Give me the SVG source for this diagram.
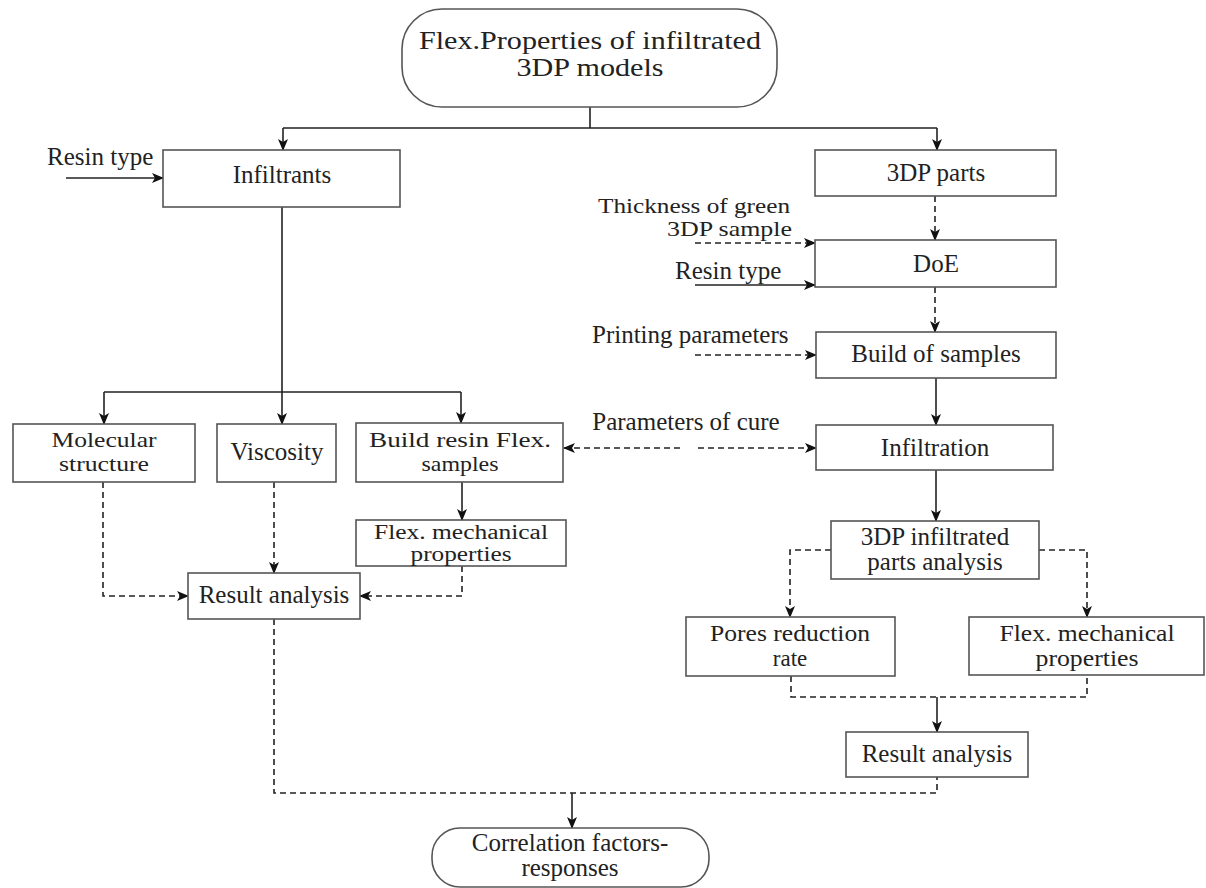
<svg xmlns="http://www.w3.org/2000/svg" width="1206" height="888" viewBox="0 0 1206 888">
<style>
.box{fill:#fff;stroke:#555;stroke-width:1.6}
.t{font-family:"Liberation Serif","Times New Roman","DejaVu Serif",serif;font-size:25px;fill:#222;text-anchor:middle}
.tl{font-family:"Liberation Serif","Times New Roman","DejaVu Serif",serif;font-size:25px;fill:#222}
.s{fill:none;stroke:#222;stroke-width:1.6}
.d{fill:none;stroke:#222;stroke-width:1.6;stroke-dasharray:6 4}
</style>
<defs>
<marker id="ah" markerWidth="12" markerHeight="10" refX="11" refY="5" orient="auto" markerUnits="userSpaceOnUse">
<path d="M0,0 L12,5 L0,10 L3,5 Z" fill="#111"/>
</marker>
</defs>
<rect width="1206" height="888" fill="#fff"/>
<g id="connectors">
<path class="s" d="M590 107 V128 M283 128 H937"/>
<path class="s" d="M283 128 V150" marker-end="url(#ah)"/>
<path class="s" d="M937 128 V150" marker-end="url(#ah)"/>
<path class="s" d="M66 178 H163" marker-end="url(#ah)"/>
<path class="s" d="M282 207 V392 M104 392 H461"/>
<path class="s" d="M282 392 V424" marker-end="url(#ah)"/>
<path class="s" d="M104 392 V424" marker-end="url(#ah)"/>
<path class="s" d="M461 392 V423" marker-end="url(#ah)"/>
<path class="s" d="M462 482 V520" marker-end="url(#ah)"/>
<path class="s" d="M695 285 H815" marker-end="url(#ah)"/>
<path class="s" d="M936 378 V425" marker-end="url(#ah)"/>
<path class="s" d="M936 470 V521" marker-end="url(#ah)"/>
<path class="s" d="M937 697 V732" marker-end="url(#ah)"/>
<path class="s" d="M572 793 V828" marker-end="url(#ah)"/>
<path class="d" d="M935 196 V240" marker-end="url(#ah)"/>
<path class="d" d="M935 287 V332" marker-end="url(#ah)"/>
<path class="d" d="M695 243 H815" marker-end="url(#ah)"/>
<path class="d" d="M695 355 H816" marker-end="url(#ah)"/>
<path class="d" d="M680 448 H564" marker-end="url(#ah)"/>
<path class="d" d="M698 448 H816" marker-end="url(#ah)"/>
<path class="d" d="M831 550 H790 V617" marker-end="url(#ah)"/>
<path class="d" d="M1039 550 H1087 V617" marker-end="url(#ah)"/>
<path class="d" d="M791 676 V697 H1087 V675"/>
<path class="d" d="M103 482 V596 H188" marker-end="url(#ah)"/>
<path class="d" d="M274 482 V573" marker-end="url(#ah)"/>
<path class="d" d="M462 566 V596 H360" marker-end="url(#ah)"/>
<path class="d" d="M274 619 V793 H937 V777"/>
</g>
<g id="n-title">
<rect class="box" x="402" y="9" width="375" height="98" rx="40" ry="40"/>
<text class="t" x="590" y="49" textLength="342" lengthAdjust="spacingAndGlyphs">Flex.Properties of infiltrated</text>
<text class="t" x="590" y="76" textLength="147" lengthAdjust="spacingAndGlyphs">3DP models</text>
</g>
<g id="n-infiltrants">
<rect class="box" x="163" y="150" width="237" height="57"/>
<text class="t" x="282" y="183">Infiltrants</text>
</g>
<g id="l-resin1"><text class="tl" x="47" y="165">Resin type</text></g>
<g id="n-3dpparts">
<rect class="box" x="815" y="150" width="241" height="46"/>
<text class="t" x="936" y="181">3DP parts</text>
</g>
<g id="l-thickness">
<text class="tl" style="font-size:21px" x="598" y="213" textLength="192" lengthAdjust="spacingAndGlyphs">Thickness of green</text>
<text class="tl" style="font-size:21px" x="667" y="236" textLength="125" lengthAdjust="spacingAndGlyphs">3DP sample</text>
</g>
<g id="n-doe">
<rect class="box" x="815" y="240" width="241" height="47"/>
<text class="t" x="936" y="272">DoE</text>
</g>
<g id="l-resin2"><text class="tl" x="675" y="279">Resin type</text></g>
<g id="l-printing"><text class="tl" x="592" y="343">Printing parameters</text></g>
<g id="n-build">
<rect class="box" x="816" y="332" width="240" height="46"/>
<text class="t" x="936" y="362">Build of samples</text>
</g>
<g id="l-cure"><text class="t" x="686" y="430">Parameters of cure</text></g>
<g id="n-infiltration">
<rect class="box" x="816" y="425" width="237" height="45"/>
<text class="t" x="935" y="456">Infiltration</text>
</g>
<g id="n-3dpinf">
<rect class="box" x="831" y="521" width="208" height="58"/>
<text class="t" x="935" y="545">3DP infiltrated</text>
<text class="t" x="935" y="570">parts analysis</text>
</g>
<g id="n-pores">
<rect class="box" x="686" y="617" width="209" height="59"/>
<text class="t" style="font-size:23px" x="790" y="641" textLength="160" lengthAdjust="spacingAndGlyphs">Pores reduction</text>
<text class="t" style="font-size:23px" x="790" y="666">rate</text>
</g>
<g id="n-flexr">
<rect class="box" x="969" y="617" width="235" height="58"/>
<text class="t" style="font-size:23px" x="1087" y="641" textLength="175" lengthAdjust="spacingAndGlyphs">Flex. mechanical</text>
<text class="t" style="font-size:23px" x="1087" y="666" textLength="103" lengthAdjust="spacingAndGlyphs">properties</text>
</g>
<g id="n-resultr">
<rect class="box" x="846" y="732" width="182" height="45"/>
<text class="t" x="937" y="762">Result analysis</text>
</g>
<g id="n-corr">
<rect class="box" x="432" y="828" width="277" height="59" rx="28" ry="28"/>
<text class="t" x="570" y="851">Correlation factors-</text>
<text class="t" x="570" y="876">responses</text>
</g>
<g id="n-molecular">
<rect class="box" x="13" y="424" width="182" height="58"/>
<text class="t" style="font-size:21px" x="104" y="447" textLength="105" lengthAdjust="spacingAndGlyphs">Molecular</text>
<text class="t" style="font-size:21px" x="104" y="471" textLength="90" lengthAdjust="spacingAndGlyphs">structure</text>
</g>
<g id="n-viscosity">
<rect class="box" x="217" y="424" width="119" height="58"/>
<text class="t" x="277" y="460">Viscosity</text>
</g>
<g id="n-buildresin">
<rect class="box" x="356" y="423" width="207" height="59"/>
<text class="t" style="font-size:21px" x="460" y="447" textLength="182" lengthAdjust="spacingAndGlyphs">Build resin Flex.</text>
<text class="t" style="font-size:21px" x="460" y="471" textLength="77" lengthAdjust="spacingAndGlyphs">samples</text>
</g>
<g id="n-flexl">
<rect class="box" x="356" y="520" width="210" height="46"/>
<text class="t" style="font-size:20px" x="461" y="539" textLength="174" lengthAdjust="spacingAndGlyphs">Flex. mechanical</text>
<text class="t" style="font-size:20px" x="461" y="561" textLength="101" lengthAdjust="spacingAndGlyphs">properties</text>
</g>
<g id="n-resultl">
<rect class="box" x="188" y="573" width="172" height="46"/>
<text class="t" x="274" y="603">Result analysis</text>
</g>
</svg>
